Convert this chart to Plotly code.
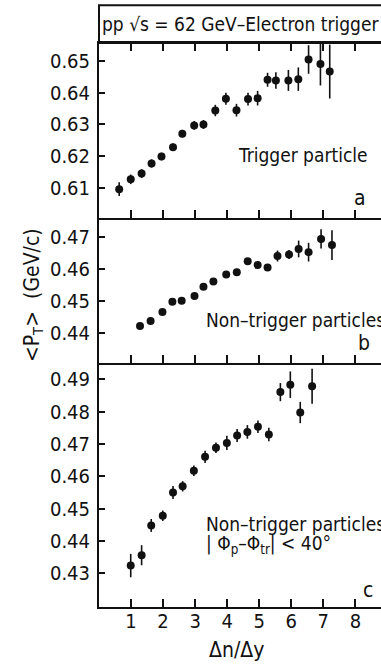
import plotly.graph_objects as go
from plotly.subplots import make_subplots

# Panel a: trigger particle
a_x = [0.63, 0.99, 1.33, 1.64, 1.95, 2.31, 2.60, 2.97, 3.26, 3.63, 3.96,
       4.29, 4.65, 4.95, 5.26, 5.52, 5.91, 6.22, 6.54, 6.91, 7.20]
a_y = [0.6096, 0.6127, 0.6145, 0.6177, 0.6199, 0.6228, 0.6271, 0.6297,
       0.6300, 0.6344, 0.6381, 0.6345, 0.6380, 0.6383, 0.6441, 0.6439,
       0.6439, 0.6443, 0.6505, 0.6491, 0.6467]
a_err = [0.0022, 0.0015, 0.0014, 0.0013, 0.0012, 0.0012, 0.0012, 0.0014,
         0.0014, 0.0018, 0.0019, 0.0020, 0.0020, 0.0023, 0.0022, 0.0026,
         0.0033, 0.0037, 0.0045, 0.0068, 0.0085]

# Panel b: non-trigger particles
b_x = [1.28, 1.61, 1.98, 2.29, 2.58, 2.98, 3.26, 3.57, 3.97, 4.30, 4.64,
       4.95, 5.26, 5.57, 5.93, 6.23, 6.54, 6.93, 7.27]
b_y = [0.4423, 0.4438, 0.4466, 0.4498, 0.4501, 0.4516, 0.4545, 0.4561,
       0.4583, 0.4590, 0.4624, 0.4612, 0.4604, 0.4640, 0.4645, 0.4662,
       0.4652, 0.4693, 0.4674]
b_err = [0.0008, 0.0008, 0.0008, 0.0008, 0.0008, 0.0008, 0.0008, 0.0008,
         0.0009, 0.0009, 0.0009, 0.0010, 0.0010, 0.0017, 0.0014, 0.0026,
         0.0029, 0.0030, 0.0046]

# Panel c: non-trigger particles, |phi_p - phi_tr| < 40 deg
c_x = [0.99, 1.33, 1.63, 1.99, 2.31, 2.61, 2.96, 3.31, 3.65, 3.99, 4.31,
       4.63, 4.96, 5.30, 5.66, 5.97, 6.28, 6.65]
c_y = [0.4324, 0.4356, 0.4448, 0.4478, 0.4550, 0.4569, 0.4617, 0.4660,
       0.4688, 0.4703, 0.4726, 0.4737, 0.4753, 0.4729, 0.4860, 0.4883,
       0.4797, 0.4878]
c_err = [0.0036, 0.0031, 0.0020, 0.0016, 0.0020, 0.0016, 0.0016, 0.0019,
         0.0016, 0.0022, 0.0020, 0.0021, 0.0019, 0.0021, 0.0028, 0.0041,
         0.0033, 0.0054]

x_ticks = [1, 2, 3, 4, 5, 6, 7, 8]
a_ticks = [0.61, 0.62, 0.63, 0.64, 0.65]
b_ticks = [0.44, 0.45, 0.46, 0.47]
c_ticks = [0.43, 0.44, 0.45, 0.46, 0.47, 0.48, 0.49]

FONT = "Liberation Sans Narrow, DejaVu Sans Condensed, Roboto, sans-serif"
INK = "#111111"

fig = make_subplots(rows=3, cols=1, shared_xaxes=True, vertical_spacing=0,
                    row_heights=[175, 145, 244])

for row, (xs, ys, es) in enumerate([(a_x, a_y, a_err), (b_x, b_y, b_err),
                                    (c_x, c_y, c_err)], start=1):
    fig.add_trace(go.Scatter(
        x=xs, y=ys, mode="markers",
        marker=dict(color=INK, size=8, symbol="circle"),
        error_y=dict(type="data", array=es, color=INK, thickness=1.6, width=0),
        showlegend=False, cliponaxis=False), row=row, col=1)

axis_common = dict(showline=True, linecolor=INK, linewidth=2, ticks="inside",
                   tickcolor=INK, tickwidth=1.5, showgrid=False, zeroline=False,
                   tickfont=dict(family=FONT, size=20, color=INK))

yranges = [[0.6005, 0.6557], [0.4308, 0.4758], [0.4196, 0.4950]]
yticks = [a_ticks, b_ticks, c_ticks]
for row in (1, 2, 3):
    fig.update_yaxes(range=yranges[row - 1], tickvals=yticks[row - 1],
                     ticktext=[f"{v:.2f}" for v in yticks[row - 1]],
                     ticklen=6, ticklabelstandoff=3,
                     **axis_common, row=row, col=1)
    fig.update_xaxes(range=[0, 8.8], tickvals=x_ticks, ticklen=8,
                     mirror=("ticks" if row == 1 else False),
                     showticklabels=(row == 3), ticklabelstandoff=-5,
                     **axis_common, row=row, col=1)

# Tick marks along the right edge of each panel (no frame line there)
for row in (1, 2, 3):
    suffix = "" if row == 1 else str(row)
    fig.layout[f"yaxis{row + 3}"] = dict(
        overlaying=f"y{suffix}", anchor=f"x{suffix}", side="right",
        range=yranges[row - 1], tickvals=yticks[row - 1], ticks="inside",
        ticklen=6, tickwidth=1.5, tickcolor=INK, showticklabels=False,
        showline=False, showgrid=False, zeroline=False)

# Header box above the top panel
fig.add_shape(type="rect", xref="paper", yref="paper", x0=0, x1=1.05,
              y0=1.0, y1=1.067, line=dict(color=INK, width=2))
fig.add_annotation(xref="paper", yref="paper", x=0.005, y=1.034,
                   xanchor="left", yanchor="middle", showarrow=False,
                   text="pp \u221As = 62 GeV\u2013Electron trigger",
                   font=dict(family=FONT, size=19, color=INK))

def label(text, x, y, xref, yref, anchor="left", size=19):
    fig.add_annotation(x=x, y=y, xref=xref, yref=yref, text=text,
                       xanchor=anchor, yanchor="middle", showarrow=False,
                       font=dict(family=FONT, size=size, color=INK))

label("Trigger particle", 4.28, 0.6203, "x", "y")
label("a", 8.16, 0.6068, "x", "y", anchor="center", size=21)
label("Non\u2013trigger particles", 3.28, 0.4441, "x2", "y2")
label("b", 8.28, 0.4370, "x2", "y2", anchor="center", size=21)
label("Non\u2013trigger particles", 3.28, 0.4452, "x3", "y3")
label("| \u03A6<sub>p</sub>\u2013\u03A6<sub>tr</sub>| &lt; 40\u00B0",
      3.28, 0.4390, "x3", "y3")
label("c", 8.40, 0.4249, "x3", "y3", anchor="center", size=21)

# Axis titles
fig.add_annotation(xref="paper", yref="paper", x=-0.234, y=0.553,
                   text="&lt;P<sub>T</sub>&gt;  (GeV/c)", textangle=-90,
                   showarrow=False, xanchor="center", yanchor="middle",
                   font=dict(family=FONT, size=21, color=INK))
fig.add_annotation(xref="paper", yref="paper", x=0.486, y=-0.076,
                   text="\u0394n/\u0394y", showarrow=False,
                   xanchor="center", yanchor="middle",
                   font=dict(family=FONT, size=21, color=INK))

fig.update_layout(width=381, height=664,
                  margin=dict(l=99, r=0, t=43, b=57),
                  paper_bgcolor="white", plot_bgcolor="white")

fig.write_html("out.html")
